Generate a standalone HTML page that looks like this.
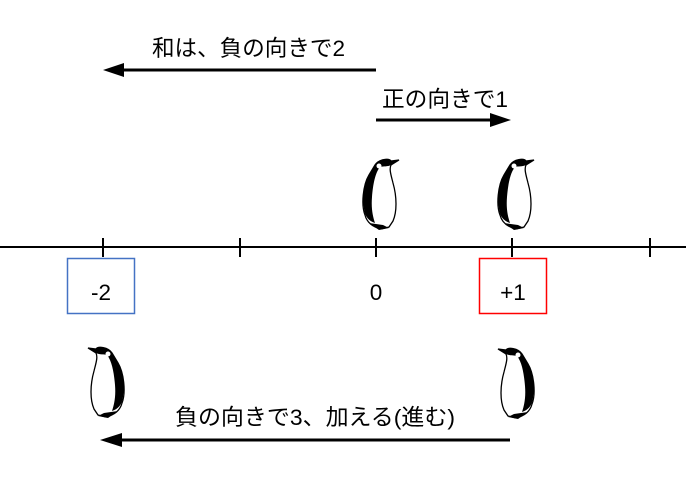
<!DOCTYPE html>
<html><head><meta charset="utf-8"><style>
html,body{margin:0;padding:0;background:#fff;}
svg{display:block;}
text{font-family:"Liberation Sans","Noto Sans CJK JP",sans-serif;font-size:22.5px;fill:#000;}
</style></head><body>
<svg width="686" height="492" viewBox="0 0 686 492">
<defs>
<g id="pg">
<path d="M14,8 C18,2 28,1 30,4 L38,3 L30,8 C28,12 30,18 32,26 C36,40 36,55 32,64 L28,70 L20,72 C12,70 6,66 4,58 C0,48 2,28 8,18 Z" fill="#fff" stroke="#000" stroke-width="1.3"/>
<path d="M14,8 C18,2 28,1 30,4 L38,3 L30,8 C26,10 22,9 19,10 C14,16 12,28 11,40 C10,52 12,60 14,66 C8,64 4,60 3,52 C1,40 3,26 8,18 Z" fill="#000"/>
<circle cx="18" cy="9" r="2.5" fill="#fff"/>
<path d="M8,66 L18,73 L28,71 L22,68 Z" fill="#000"/>
</g>
</defs>
<line x1="0" y1="247" x2="686" y2="247" stroke="#000" stroke-width="2"/>
<g stroke="#000" stroke-width="2">
<line x1="103" y1="238" x2="103" y2="257"/>
<line x1="240" y1="238" x2="240" y2="257"/>
<line x1="376" y1="238" x2="376" y2="257"/>
<line x1="512" y1="238" x2="512" y2="257"/>
<line x1="650" y1="238" x2="650" y2="257"/>
</g>
<rect x="67.5" y="258.5" width="67" height="55" fill="none" stroke="#4472c4" stroke-width="1.5"/>
<rect x="479.5" y="258.5" width="67" height="55" fill="none" stroke="#ff0000" stroke-width="1.5"/>
<text x="101" y="300" text-anchor="middle">-2</text>
<text x="376" y="300" text-anchor="middle">0</text>
<text x="513" y="300" text-anchor="middle">+1</text>
<line x1="376" y1="70" x2="118" y2="70" stroke="#000" stroke-width="3"/>
<path d="M103,70 L124,63 L124,77 Z" fill="#000"/>
<text x="152" y="56" textLength="193" lengthAdjust="spacingAndGlyphs">和は、負の向きで2</text>
<line x1="376" y1="120" x2="496" y2="120" stroke="#000" stroke-width="3"/>
<path d="M511,120 L490,113 L490,127 Z" fill="#000"/>
<text x="382" y="107" textLength="126" lengthAdjust="spacingAndGlyphs">正の向きで1</text>
<line x1="510" y1="440" x2="116" y2="440" stroke="#000" stroke-width="3"/>
<path d="M100,440 L122,433 L122,447 Z" fill="#000"/>
<text x="175" y="425" textLength="280" lengthAdjust="spacingAndGlyphs">負の向きで3、加える(進む)</text>
<use href="#pg" transform="translate(361,157)"/>
<use href="#pg" transform="translate(496,157)"/>
<use href="#pg" transform="translate(126,345) scale(-1,1)"/>
<use href="#pg" transform="translate(536,346) scale(-1,1)"/>
</svg>
</body></html>
